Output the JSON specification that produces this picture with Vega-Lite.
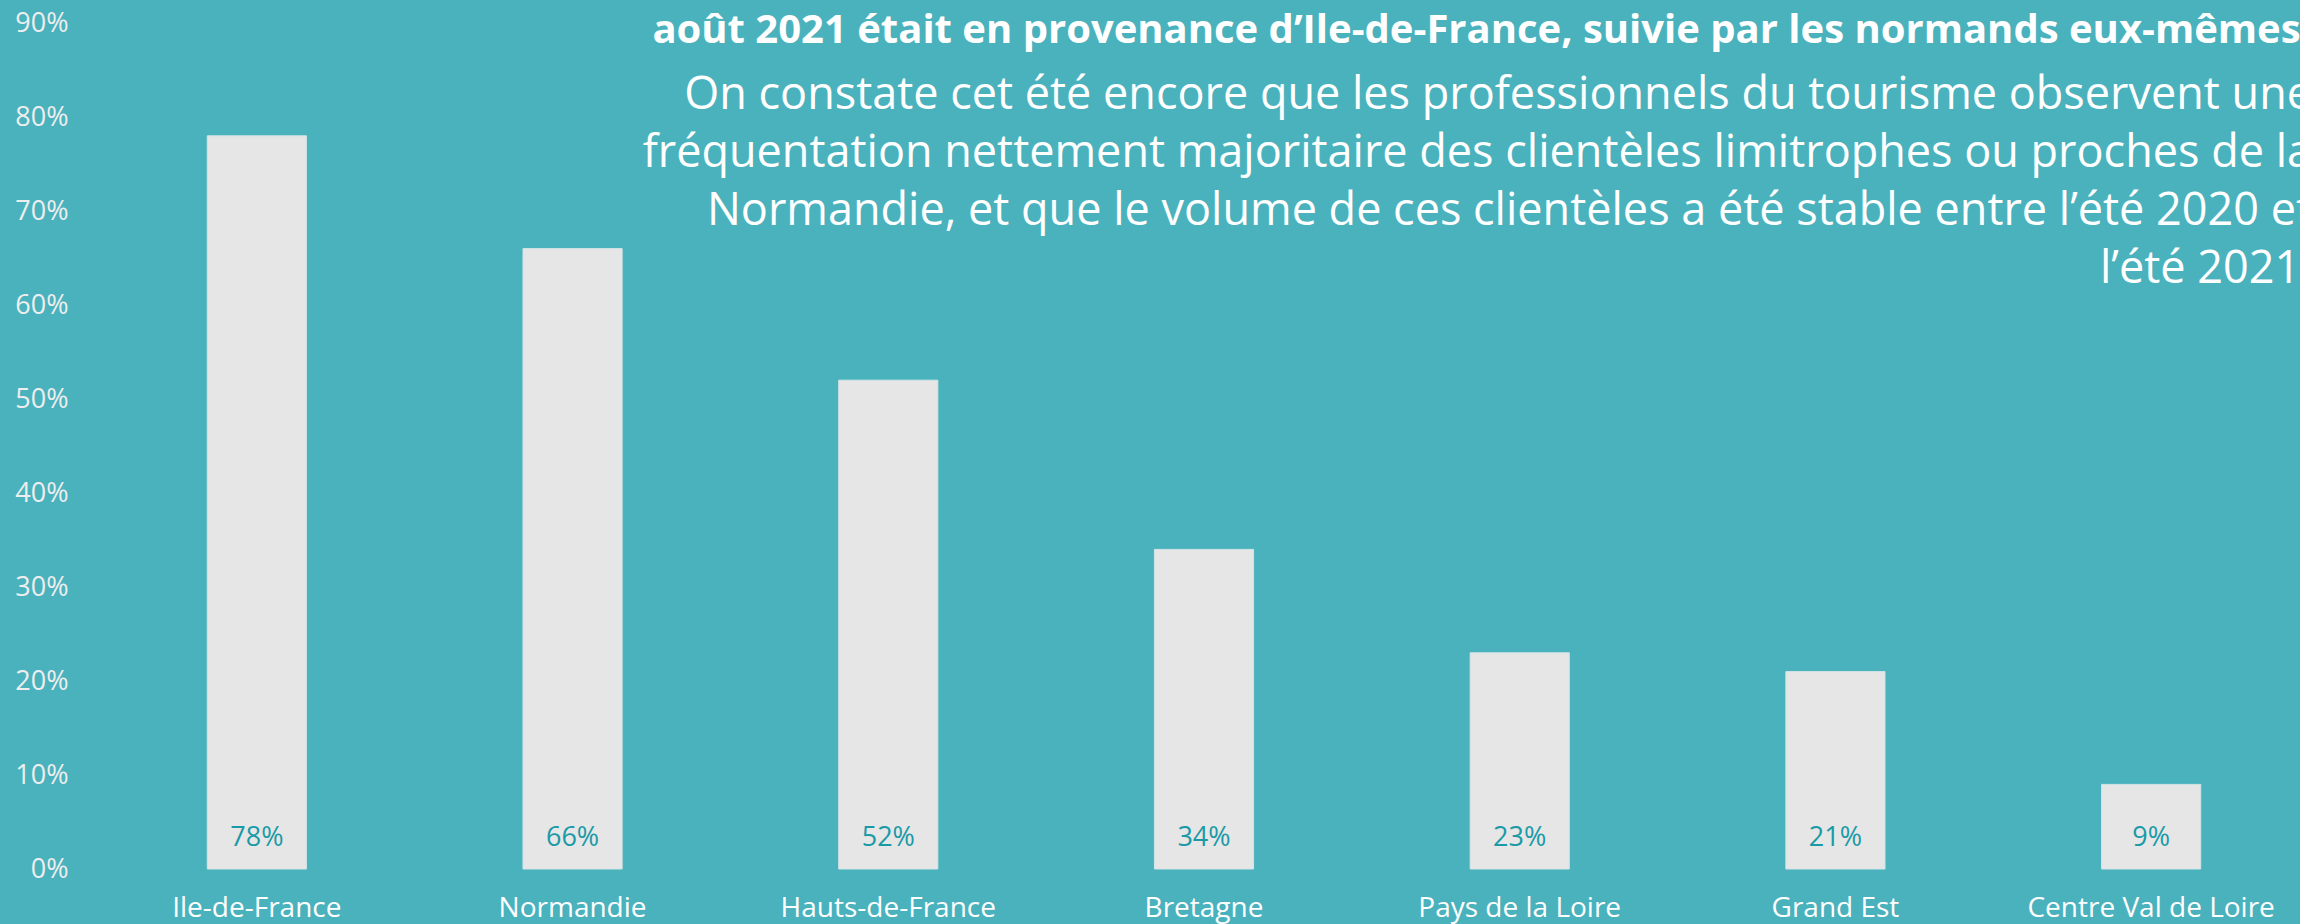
{
  "$schema": "https://vega.github.io/schema/vega-lite/v6.json",
  "autosize": {"type": "none"},
  "padding": {"left": 99, "top": 23, "right": 0, "bottom": 55},
  "width": 2201,
  "height": 846,
  "background": "#4AB2BD",
  "config": {
    "view": {"stroke": null},
    "font": "Open Sans"
  },
  "title": {
    "text": "août 2021 était en provenance d’Ile-de-France, suivie par les normands eux-mêmes.",
    "subtitle": [
      "On constate cet été encore que les professionnels du tourisme observent une",
      "fréquentation nettement majoritaire des clientèles limitrophes ou proches de la",
      "Normandie, et que le volume de ces clientèles a été stable entre l’été 2020 et",
      "l’été 2021."
    ],
    "anchor": "end",
    "frame": "group",
    "orient": "top",
    "offset": -283,
    "dx": 12,
    "font": "Open Sans",
    "fontSize": 40,
    "fontWeight": "bold",
    "color": "#FFFFFF",
    "subtitleFont": "Open Sans",
    "subtitleFontSize": 45,
    "subtitleFontWeight": "normal",
    "subtitleColor": "#FFFFFF",
    "subtitleLineHeight": 58,
    "subtitlePadding": 22
  },
  "data": {
    "values": [
      {"region": "Ile-de-France", "part": 0.78},
      {"region": "Normandie", "part": 0.66},
      {"region": "Hauts-de-France", "part": 0.52},
      {"region": "Bretagne", "part": 0.34},
      {"region": "Pays de la Loire", "part": 0.23},
      {"region": "Grand Est", "part": 0.21},
      {"region": "Centre Val de Loire", "part": 0.09}
    ]
  },
  "encoding": {
    "x": {
      "field": "region",
      "type": "nominal",
      "sort": null,
      "scale": {"range": [0, 2210], "paddingInner": 0.686, "paddingOuter": 0.343},
      "axis": {
        "title": null,
        "labelAngle": 0,
        "labelLimit": 0,
        "domain": false,
        "ticks": false,
        "tickSize": 0,
        "labelPadding": 25,
        "labelFontSize": 28,
        "labelColor": "#FFFFFF",
        "labelFont": "Open Sans"
      }
    }
  },
  "layer": [
    {
      "mark": {"type": "bar", "color": "#E6E6E6", "stroke": "#D4E4E6", "strokeWidth": 1},
      "encoding": {
        "y": {
          "field": "part",
          "type": "quantitative",
          "scale": {"domain": [0, 0.9], "nice": false},
          "axis": {
            "title": null,
            "format": ".0%",
            "values": [0, 0.1, 0.2, 0.3, 0.4, 0.5, 0.6, 0.7, 0.8, 0.9],
            "grid": false,
            "domain": false,
            "ticks": false,
            "tickSize": 0,
            "labelPadding": 31,
            "labelFontSize": 27,
            "labelColor": "#EEEEEE",
            "labelFont": "Open Sans"
          }
        }
      }
    },
    {
      "mark": {"type": "text", "baseline": "middle", "dy": -31, "fontSize": 27, "color": "#1A9AA6", "font": "Open Sans"},
      "encoding": {
        "y": {"datum": 0},
        "text": {"field": "part", "type": "quantitative", "format": ".0%"}
      }
    }
  ]
}
